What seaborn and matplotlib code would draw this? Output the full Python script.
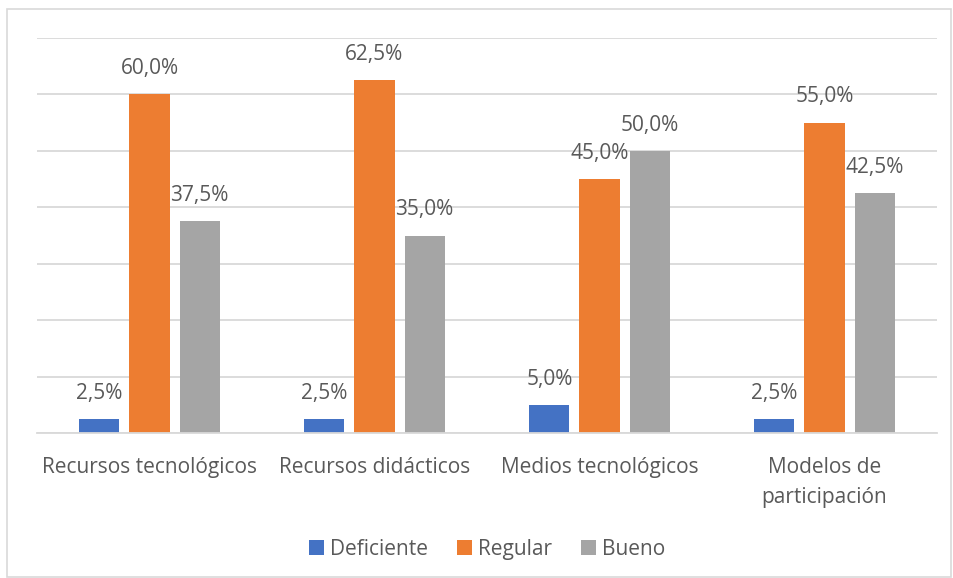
import pandas as pd
import matplotlib
matplotlib.use('Agg')
import matplotlib.pyplot as plt
import seaborn as sns
from matplotlib.patches import Rectangle

CATEGORIAS = ['Recursos tecnológicos', 'Recursos didácticos', 'Medios tecnológicos',
              'Modelos de\nparticipación']
DEFICIENTE = [2.5, 2.5, 5.0, 2.5]
REGULAR = [60.0, 62.5, 45.0, 55.0]
BUENO = [37.5, 35.0, 50.0, 42.5]
SERIES = ['Deficiente', 'Regular', 'Bueno']
COLORES = ['#4472C4', '#ED7D31', '#A5A5A5']

df = pd.DataFrame({
    'cat': CATEGORIAS * 3,
    'serie': [s for s in SERIES for _ in CATEGORIAS],
    'valor': DEFICIENTE + REGULAR + BUENO,
})

sns.set_theme(style='white')
plt.rcParams['font.family'] = ['Open Sans', 'DejaVu Sans']
TXT = '#595959'

fig = plt.figure(figsize=(9.54, 5.78), dpi=100)
ax = fig.add_axes([37 / 954, 1 - 433 / 578, 900 / 954, 395 / 578])

sns.barplot(data=df, x='cat', y='valor', hue='serie', hue_order=SERIES,
            palette=COLORES, width=0.667, gap=0.2, saturation=1, linewidth=0, ax=ax)

ax.set_ylim(0, 70)
ax.set_xlim(-0.5, 3.5)
ax.set_yticks(range(0, 71, 10))
ax.yaxis.grid(True, color='#D9D9D9', linewidth=1.3)
ax.set_axisbelow(True)
ax.tick_params(axis='y', left=False, labelleft=False)
ax.tick_params(axis='x', bottom=False, labelsize=15, labelcolor=TXT, pad=11)
for lab in ax.get_xticklabels():
    lab.set_linespacing(1.6)
for s in ['top', 'right', 'left']:
    ax.spines[s].set_visible(False)
ax.spines['bottom'].set_color('#D9D9D9')
ax.spines['bottom'].set_linewidth(1.3)
ax.set_xlabel('')
ax.set_ylabel('')

for cont in ax.containers:
    ax.bar_label(cont, labels=[f'{v:.1f}%'.replace('.', ',') for v in cont.datavalues],
                 padding=11, fontsize=15, color=TXT)

ax.legend(loc='upper center', bbox_to_anchor=(0.5, -0.22), ncol=3, frameon=False,
          fontsize=15, labelcolor=TXT, handlelength=0.7, handleheight=0.7,
          handletextpad=0.3, columnspacing=1.4)

fig.patches.append(Rectangle((7 / 954, 1 / 578), 944 / 954, 568 / 578,
                             transform=fig.transFigure, fill=False,
                             edgecolor='#D9D9D9', linewidth=1.2))

fig.savefig('out.png', dpi=100)
